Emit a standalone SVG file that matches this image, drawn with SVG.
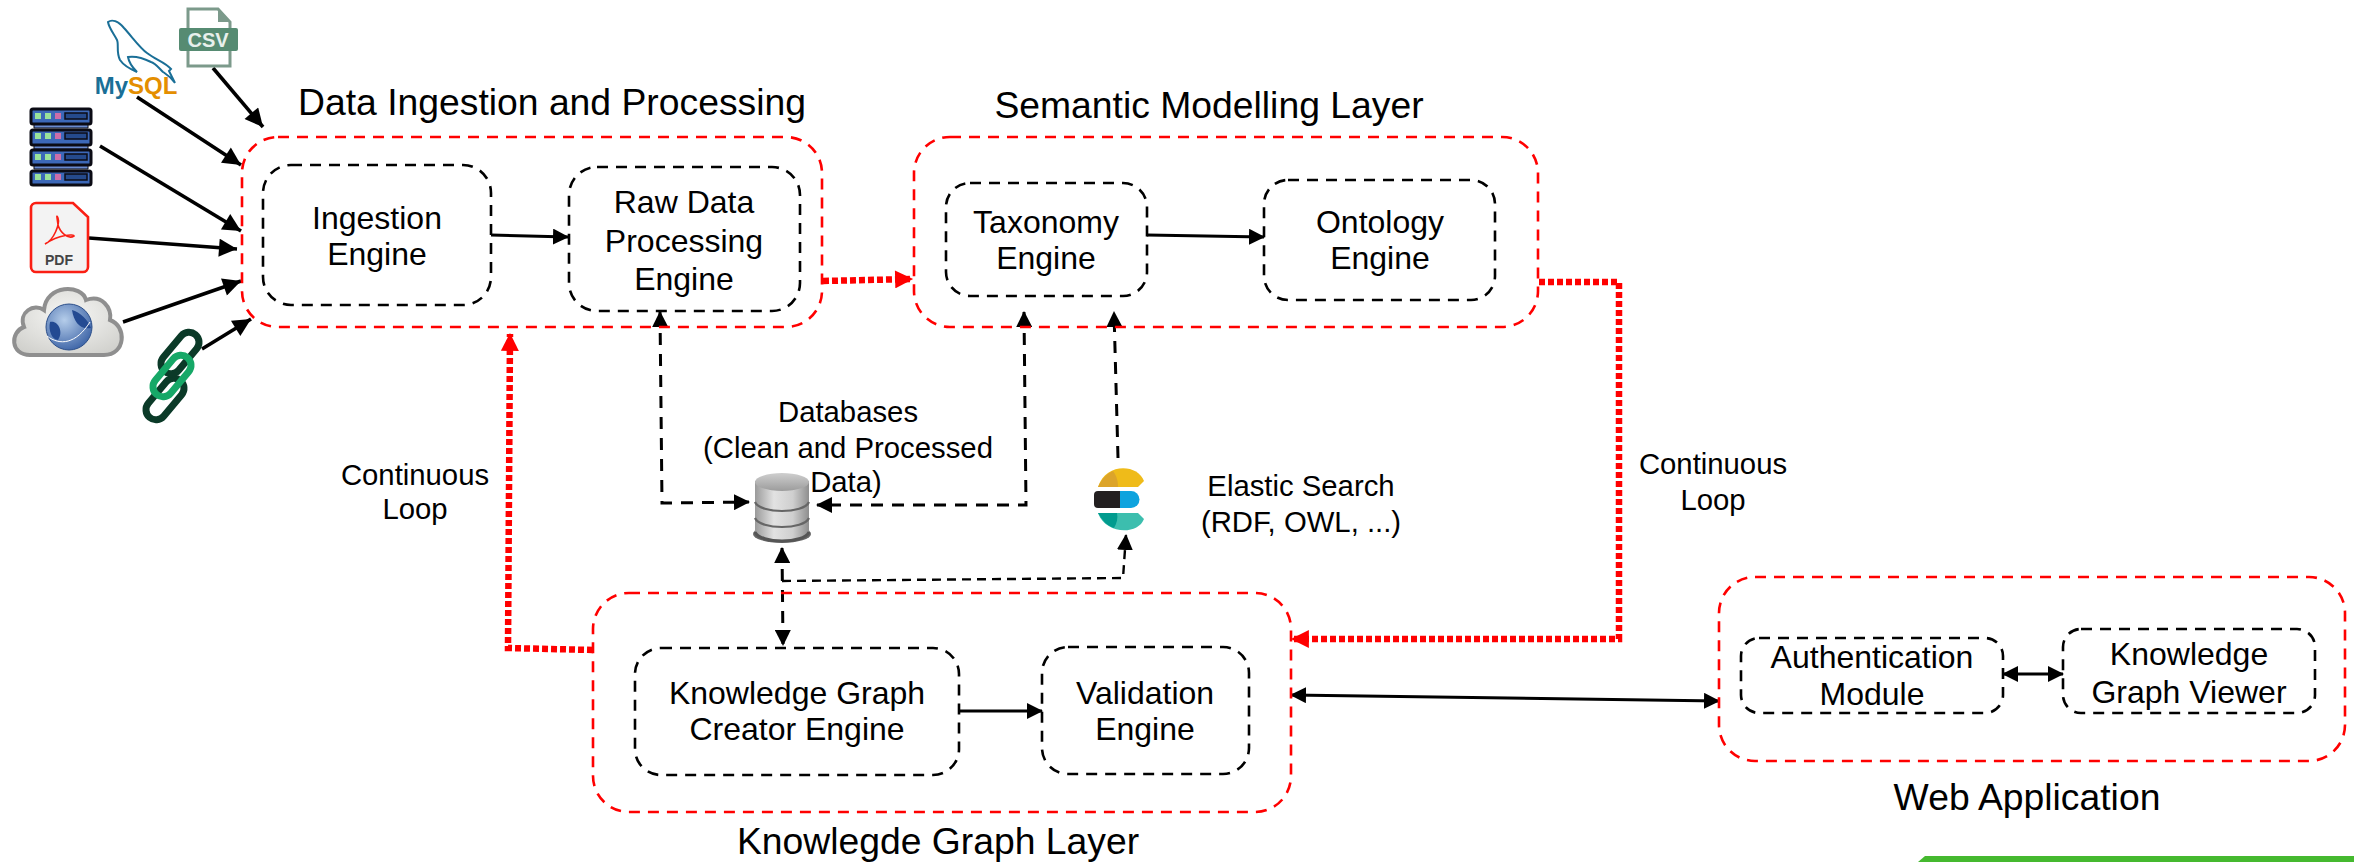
<svg xmlns="http://www.w3.org/2000/svg" width="2354" height="862" viewBox="0 0 2354 862">
<style>
text{font-family:"Liberation Sans",Arial,sans-serif;fill:#000;text-anchor:middle}
.h{font-size:37.3px}.b{font-size:32px}.s{font-size:29.3px}
.outer{fill:none;stroke:#f00;stroke-width:2.6;stroke-dasharray:11 8}
.inner{fill:none;stroke:#000;stroke-width:2.6;stroke-dasharray:11 8}
.a{fill:none;stroke:#000;stroke-width:3}
.t{fill:none;stroke:#000;stroke-width:3.6}
.d{fill:none;stroke:#000;stroke-width:3;stroke-dasharray:12 9}
.r{fill:none;stroke:#f00;stroke-width:6.500;stroke-dasharray:6 3}
</style>
<defs>
<marker id="k" markerUnits="userSpaceOnUse" markerWidth="20" markerHeight="18" refX="16" refY="8" orient="auto-start-reverse" viewBox="0 0 16 16"><path d="M0 0L16 8L0 16z" fill="#000"/></marker>
<marker id="k2" markerUnits="userSpaceOnUse" markerWidth="16" markerHeight="16" refX="15" refY="8" orient="auto-start-reverse" viewBox="0 0 16 16"><path d="M0 0L16 8L0 16z" fill="#000"/></marker>
<marker id="rm" markerUnits="userSpaceOnUse" markerWidth="20" markerHeight="18" refX="15" refY="8" orient="auto" viewBox="0 0 16 16"><path d="M0 0L16 8L0 16z" fill="#f00"/></marker>
<linearGradient id="cyl" x1="0" x2="1" y1="0" y2="0"><stop offset="0" stop-color="#9a9a9a"/><stop offset=".35" stop-color="#e2e2e2"/><stop offset=".7" stop-color="#cfcfcf"/><stop offset="1" stop-color="#8e8e8e"/></linearGradient>
<linearGradient id="cap" x1="0" x2="0" y1="0" y2="1"><stop offset="0" stop-color="#cfcfcf"/><stop offset="1" stop-color="#9c9c9c"/></linearGradient>
<radialGradient id="cl" cx=".5" cy=".4" r=".7"><stop offset="0" stop-color="#f7f7f5"/><stop offset="1" stop-color="#cfcfcb"/></radialGradient>
<radialGradient id="gl" cx=".4" cy=".35" r=".7"><stop offset="0" stop-color="#b5cdea"/><stop offset="1" stop-color="#3c63a6"/></radialGradient>
</defs>
<g id="connectors">
<path class="t" marker-end="url(#k)" d="M213 68L263 127"/>
<path class="t" marker-end="url(#k)" d="M137 97L241 165"/>
<path class="t" marker-end="url(#k)" d="M100 146L241 231"/>
<path class="t" marker-end="url(#k)" d="M89 238L237 249"/>
<path class="t" marker-end="url(#k)" d="M123 322L241 281"/>
<path class="t" marker-end="url(#k)" d="M202 349L251 319"/>
<path class="a" marker-end="url(#k2)" d="M491 235L568 237"/>
<path class="a" marker-end="url(#k2)" d="M1147 235L1264 237"/>
<path class="a" marker-end="url(#k2)" d="M959 711L1042 711"/>
<path class="a" marker-start="url(#k2)" marker-end="url(#k2)" d="M2003 674L2063 674"/>
<path class="a" marker-start="url(#k2)" marker-end="url(#k2)" d="M1291 695L1719 701"/>
<path class="d" marker-start="url(#k2)" marker-end="url(#k2)" d="M660 312L662 503L749 502"/>
<path class="d" marker-start="url(#k2)" marker-end="url(#k2)" d="M1024 312L1026 505L817 505"/>
<path class="d" marker-end="url(#k2)" d="M1118 458L1114 312"/>
<path class="d" marker-start="url(#k2)" marker-end="url(#k2)" d="M782 548L783 645"/>
<path class="d" marker-end="url(#k2)" style="stroke-width:2.4;stroke-dasharray:9 6" d="M782 581L1123 578L1126 535"/>
<path class="r" marker-end="url(#rm)" d="M823 281L912 279"/>
<path class="r" marker-end="url(#rm)" d="M1539 282L1619 282L1619 639L1292 639"/>
<path class="r" marker-end="url(#rm)" d="M593 650L508 648L510 334"/>
</g>
<g id="data-ingestion"><rect class="outer" x="242" y="137" width="580" height="190" rx="36"/><text class="h" x="552" y="115">Data Ingestion and Processing</text></g>
<g id="ingestion-engine"><rect class="inner" x="263" y="165" width="228" height="140" rx="28"/><text class="b" x="377" y="229">Ingestion</text><text class="b" x="377" y="265">Engine</text></g>
<g id="raw-data"><rect class="inner" x="569" y="167" width="231" height="144" rx="28"/><text class="b" x="684" y="213">Raw Data</text><text class="b" x="684" y="252">Processing</text><text class="b" x="684" y="290">Engine</text></g>
<g id="semantic"><rect class="outer" x="914" y="137" width="624" height="190" rx="36"/><text class="h" x="1209" y="118">Semantic Modelling Layer</text></g>
<g id="taxonomy"><rect class="inner" x="946" y="183" width="201" height="113" rx="24"/><text class="b" x="1046" y="233">Taxonomy</text><text class="b" x="1046" y="269">Engine</text></g>
<g id="ontology"><rect class="inner" x="1264" y="180" width="231" height="120" rx="24"/><text class="b" x="1380" y="233">Ontology</text><text class="b" x="1380" y="269">Engine</text></g>
<g id="kg-layer"><rect class="outer" x="593" y="593" width="698" height="219" rx="36"/><text class="h" x="938" y="854">Knowlegde Graph Layer</text></g>
<g id="kg-creator"><rect class="inner" x="635" y="648" width="324" height="127" rx="26"/><text class="b" x="797" y="704">Knowledge Graph</text><text class="b" x="797" y="740">Creator Engine</text></g>
<g id="validation"><rect class="inner" x="1042" y="647" width="207" height="127" rx="26"/><text class="b" x="1145" y="704">Validation</text><text class="b" x="1145" y="740">Engine</text></g>
<g id="web-app"><rect class="outer" x="1719" y="577" width="626" height="184" rx="36"/><text class="h" x="2027" y="810">Web Application</text></g>
<g id="auth"><rect class="inner" x="1741" y="638" width="262" height="75" rx="18"/><text class="b" x="1872" y="668">Authentication</text><text class="b" x="1872" y="705">Module</text></g>
<g id="viewer"><rect class="inner" x="2063" y="629" width="252" height="84" rx="18"/><text class="b" x="2189" y="665">Knowledge</text><text class="b" x="2189" y="703">Graph Viewer</text></g>
<g id="databases">
<ellipse cx="782" cy="534" rx="29" ry="9" fill="#666"/>
<path d="M755 481V530C755 544 809 544 809 530V481z" fill="url(#cyl)"/>
<ellipse cx="782" cy="482" rx="27" ry="9" fill="url(#cap)"/>
<path d="M755 502C760 514 804 514 809 502M755 518C760 530 804 530 809 518" fill="none" stroke="#666" stroke-width="2.2"/>
<path d="M755 532C760 544 804 544 809 532" fill="none" stroke="#555" stroke-width="3"/>
<text class="s" x="848" y="422">Databases</text><text class="s" x="848" y="458">(Clean and Processed</text><text class="s" x="846" y="492">Data)</text>
</g>
<g id="elastic">
<path d="M1098 487C1106 462 1138 464 1144 481L1138 487z" fill="#efbb19"/>
<path d="M1098 487C1102 478 1108 473 1113 471C1117 476 1118 482 1118 487z" fill="#dca42a"/>
<path d="M1098 491H1120V508H1098a4 4 0 0 1-4-4V495a4 4 0 0 1 4-4z" fill="#231f20"/><path d="M1120 491h11a8.500 8.500 0 0 1 0 17h-11z" fill="#0ea3de"/>
<path d="M1098 513H1138L1144 519C1138 535 1106 535 1098 513z" fill="#3cbeae"/>
<path d="M1098 513H1117C1118 518 1117 523 1114 528C1107 526 1102 520 1098 513z" fill="#019b8e"/>
<text class="s" x="1301" y="496">Elastic Search</text><text class="s" x="1301" y="532">(RDF, OWL, ...)</text>
</g>
<text class="s" x="415" y="485">Continuous</text><text class="s" x="415" y="519">Loop</text>
<text class="s" x="1713" y="474">Continuous</text><text class="s" x="1713" y="510">Loop</text>
<g id="src-mysql">
<path d="M108 22C112 19 118 21 124 28C133 38 140 48 147 53C156 60 165 62 171 69L169 71L175 83C170 76 166 74 163 72C158 67 155 63 151 62C143 58 134 56 128 57C129 63 133 68 137 72C130 69 124 66 120 60C116 52 119 44 117 40C114 34 109 28 108 22z" fill="#fff" stroke="#1a6f97" stroke-width="2"/>
<text x="136" y="94" style="font-size:24px;font-weight:bold"><tspan fill="#1a6f97">My</tspan><tspan fill="#e48e00">SQL</tspan></text>
</g>
<g id="src-csv">
<path d="M188 9H218L230 22V66H188z" fill="#fff" stroke="#7c9a8b" stroke-width="3"/><path d="M218 9V22H230z" fill="#7c9a8b"/>
<rect x="179" y="28" width="59" height="23" rx="2" fill="#568b72"/>
<text x="208" y="47" style="font-size:20px;font-weight:bold;fill:#e8f0ec">CSV</text>
</g>
<g id="src-server" fill="#3c68b8" stroke="#0b0b14" stroke-width="3">
<path d="M34 124V128H88V124M34 145V149H88V145M34 165V169H88V165" stroke-width="1" fill="#6a8bd0"/>
<rect x="31" y="109" width="60" height="15" rx="2"/><rect x="31" y="130" width="60" height="15" rx="2"/><rect x="31" y="150" width="60" height="15" rx="2"/><rect x="31" y="171" width="60" height="14" rx="2"/>
<g stroke="none" fill="#9be29a"><rect x="35" y="113" width="6" height="6"/><rect x="45" y="113" width="6" height="6"/><rect x="35" y="133" width="6" height="6"/><rect x="45" y="133" width="6" height="6"/><rect x="35" y="154" width="6" height="6"/><rect x="45" y="154" width="6" height="6"/><rect x="35" y="174" width="6" height="6"/><rect x="45" y="174" width="6" height="6"/></g>
<g stroke="none" fill="#cc6ea8"><rect x="55" y="113" width="6" height="6"/><rect x="55" y="133" width="6" height="6"/><rect x="55" y="154" width="6" height="6"/><rect x="55" y="174" width="6" height="6"/></g>
<g stroke="#0b0b14" stroke-width="1.5" fill="#254a8c"><rect x="65" y="113" width="22" height="6"/><rect x="65" y="133" width="22" height="6"/><rect x="65" y="154" width="22" height="6"/><rect x="65" y="174" width="22" height="6"/></g>
</g>
<g id="src-pdf">
<path d="M36 203H73L88 217V267a5 5 0 0 1-5 5H36a5 5 0 0 1-5-5V208a5 5 0 0 1 5-5z" fill="#f3f3f3" stroke="#fa1f14" stroke-width="2.6"/>
<path d="M45 244C54 240 60 224 58 218C56 214 57 217 58 225C60 232 68 240 74 236C74 234 60 234 45 244z" fill="none" stroke="#fa1f14" stroke-width="1.6"/>
<text x="59" y="265" style="font-size:14px;font-weight:bold;fill:#444">PDF</text>
</g>
<g id="src-cloud">
<path d="M30 355C10 355 10 332 24 327C18 312 34 303 44 310C46 284 82 284 86 300C102 294 112 308 110 320C127 326 126 355 104 355z" fill="url(#cl)" stroke="#8f8f8f" stroke-width="4"/>
<circle cx="69" cy="327" r="23" fill="url(#gl)" stroke="#2c4f8a"/>
<path d="M50 322C58 320 64 332 58 340C52 340 48 330 50 322zM72 310C80 312 88 320 91 328C80 330 74 322 72 310z" fill="#234a92"/>
<path d="M47 336C60 346 76 344 90 322" fill="none" stroke="#fff" stroke-width="1"/>
</g>
<g id="src-link" fill="none">
<rect x="155" y="375" width="20" height="48" rx="10" transform="rotate(40 165 399)" stroke="#0b3a28" stroke-width="7"/>
<rect x="170" y="329" width="20" height="48" rx="10" transform="rotate(40 180 353)" stroke="#0b3a28" stroke-width="7"/>
<rect x="162" y="352" width="20" height="48" rx="10" transform="rotate(40 172 376)" stroke="#16a867" stroke-width="7"/>
</g>
<path id="bar" d="M1925 856H2354V862H1918z" fill="#45b92f"/>
</svg>
